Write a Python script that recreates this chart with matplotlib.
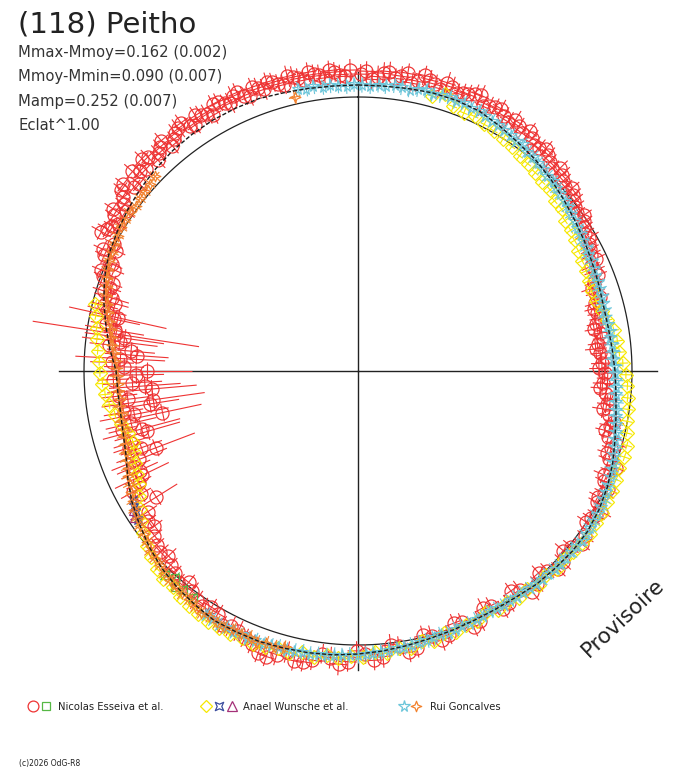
import numpy as np
import matplotlib
matplotlib.use("Agg")
import matplotlib.pyplot as plt
from matplotlib.path import Path

plt.rcParams['font.family'] = ['DejaVu Sans']

# ---------------- text content ----------------
TITLE = "(118) Peitho"
INFO = ["Mmax-Mmoy=0.162 (0.002)", "Mmoy-Mmin=0.090 (0.007)",
        "Mamp=0.252 (0.007)", "Eclat^1.00"]
OBSERVERS = ["Nicolas Esseiva et al.", "Anael Wunsche et al.", "Rui Goncalves"]
FOOTER = "(c)2026 OdG-R8"
STAMP = "Provisoire"

# ---------------- data: phase (deg, clockwise from top) / relative flux ----------------
mean_phase = [0, 5, 10, 15, 20, 25, 30, 35, 40, 45, 50, 55, 60, 65, 70, 75, 80, 85,
              90, 95, 100, 105, 110, 115, 120, 125, 130, 135, 140, 145, 150, 155, 160, 165,
              170, 175, 180, 185, 190, 195, 200, 205, 210, 215, 220, 225, 230, 235, 240, 245,
              250, 255, 260, 265, 270, 275, 280, 285, 290, 295, 300, 305, 310, 315, 320, 325,
              330, 335, 340, 345, 350, 355]
mean_flux = [1.044, 1.044, 1.047, 1.051, 1.051, 1.047, 1.033, 1.018, 1.007, 0.993,
             0.978, 0.964, 0.953, 0.942, 0.934, 0.927, 0.927, 0.931, 0.938, 0.945,
             0.956, 0.971, 0.989, 1.004, 1.015, 1.022, 1.022, 1.018, 1.015, 1.007,
             1.004, 1.004, 1.007, 1.011, 1.018, 1.026, 1.033, 1.040, 1.044, 1.047,
             1.051, 1.051, 1.051, 1.040, 1.029, 1.015, 0.996, 0.974, 0.953, 0.927,
             0.901, 0.887, 0.880, 0.880, 0.883, 0.909, 0.934, 0.960, 0.985, 1.004,
             1.015, 1.026, 1.036, 1.044, 1.051, 1.055, 1.058, 1.058, 1.058, 1.051,
             1.047, 1.044]

# Nicolas Esseiva et al. (circles) - first session
red_phase = [0.5, 2.7, 4.9, 7.2, 9.5, 11.6, 13.8, 16.1, 18.3, 20.6,
             22.9, 25.2, 27.4, 29.8, 32.1, 34.5, 36.8, 39.0, 41.4, 43.7,
             46.1, 48.3, 50.7, 53.0, 55.4, 57.6, 60.0, 62.3, 64.7, 67.0,
             69.4, 71.7, 74.1, 76.4, 78.8, 81.1, 83.5, 85.8, 88.2, 90.5,
             92.9, 95.2, 97.6, 100.0, 102.3, 104.7, 107.0, 109.4, 111.7, 114.1,
             116.4, 118.8, 121.1, 123.5, 126.0, 129.5, 133.0, 136.5, 140.0, 143.5,
             147.0, 150.5, 154.0, 157.5, 161.0, 164.5, 168.0, 171.5, 175.0, 178.5,
             182.0, 185.5, 189.0, 192.5, 196.0, 199.5, 203.0, 206.5, 210.0, 213.5,
             217.0, 220.5, 224.0, 227.5, 231.0, 234.5, 238.0, 240.5, 243.0, 245.5,
             248.0, 250.5, 252.5, 255.0, 257.0, 259.0, 261.0, 263.0, 265.0, 267.0,
             269.0, 271.0, 273.0, 275.0, 277.0, 278.7, 279.5, 282.5, 283.5, 285.5,
             287.5, 289.5, 291.5, 293.5, 295.5, 297.5, 299.5, 301.5, 303.5, 305.5,
             307.5, 309.5, 311.5, 313.5, 315.5, 317.5, 319.5, 321.5, 323.5, 325.5,
             327.5, 329.5, 331.5, 333.5, 335.5, 337.5, 339.5, 341.5, 343.5, 345.5,
             347.5, 349.5, 351.5, 353.5, 355.5, 357.5]
red_flux = [1.084, 1.066, 1.091, 1.077, 1.102, 1.080, 1.095, 1.073, 1.091, 1.084,
            1.099, 1.069, 1.084, 1.073, 1.080, 1.055, 1.062, 1.047, 1.051, 1.026,
            1.033, 1.011, 1.015, 0.993, 1.000, 0.978, 0.974, 0.956, 0.960, 0.938,
            0.920, 0.912, 0.901, 0.898, 0.887, 0.894, 0.880, 0.887, 0.891, 0.901,
            0.894, 0.909, 0.916, 0.931, 0.942, 0.945, 0.967, 0.971, 0.989, 0.985,
            1.004, 0.996, 1.015, 1.000, 1.026, 1.007, 1.022, 1.004, 1.015, 0.993,
            1.011, 0.985, 1.015, 0.993, 1.018, 1.004, 1.033, 1.015, 1.047, 1.033,
            1.062, 1.051, 1.069, 1.084, 1.077, 1.091, 1.058, 1.040, 1.022, 1.029,
            1.007, 1.011, 0.985, 0.978, 0.956, 0.942, 0.869, 0.912, 0.898, 0.876,
            0.861, 0.839, 0.869, 0.818, 0.850, 0.832, 0.770, 0.847, 0.755, 0.825,
            0.810, 0.854, 0.869, 0.832, 0.876, 0.894, 0.901, 0.898, 0.942, 0.920,
            0.971, 0.949, 1.007, 0.978, 1.033, 1.004, 1.051, 1.026, 1.073, 1.047,
            1.088, 1.058, 1.099, 1.069, 1.095, 1.077, 1.106, 1.080, 1.102, 1.084,
            1.106, 1.088, 1.109, 1.091, 1.102, 1.088, 1.106, 1.084, 1.099, 1.080,
            1.099, 1.080, 1.095, 1.077, 1.095, 1.077]
red_err = [0.036, 0.036, 0.040, 0.036, 0.036, 0.040, 0.036, 0.036, 0.040, 0.036,
           0.036, 0.040, 0.036, 0.036, 0.040, 0.036, 0.036, 0.040, 0.036, 0.036,
           0.040, 0.036, 0.036, 0.040, 0.036, 0.036, 0.040, 0.036, 0.036, 0.040,
           0.036, 0.036, 0.040, 0.036, 0.036, 0.040, 0.036, 0.036, 0.040, 0.036,
           0.036, 0.040, 0.036, 0.036, 0.040, 0.036, 0.036, 0.040, 0.036, 0.036,
           0.040, 0.036, 0.036, 0.040, 0.036, 0.036, 0.040, 0.036, 0.036, 0.040,
           0.036, 0.036, 0.040, 0.036, 0.036, 0.040, 0.036, 0.036, 0.040, 0.036,
           0.036, 0.040, 0.036, 0.036, 0.040, 0.036, 0.036, 0.040, 0.036, 0.036,
           0.040, 0.036, 0.036, 0.040, 0.036, 0.036, 0.091, 0.044, 0.051, 0.073,
           0.109, 0.080, 0.066, 0.146, 0.095, 0.128, 0.109, 0.080, 0.164, 0.109,
           0.102, 0.073, 0.164, 0.088, 0.139, 0.307, 0.109, 0.182, 0.073, 0.051,
           0.044, 0.036, 0.036, 0.040, 0.036, 0.036, 0.040, 0.036, 0.036, 0.040,
           0.036, 0.036, 0.040, 0.036, 0.036, 0.040, 0.036, 0.036, 0.040, 0.036,
           0.036, 0.040, 0.036, 0.036, 0.040, 0.036, 0.036, 0.040, 0.036, 0.036,
           0.040, 0.036, 0.036, 0.040, 0.036, 0.036]

# Nicolas Esseiva et al. (circles) - further sessions
red2_phase = [288.5, 290.5, 292.5, 294.5, 296.5, 298.5, 300.5, 302.5, 304.5, 306.5,
              308.5, 310.5, 312.5, 314.5, 316.5, 318.5, 320.5, 322.5, 324.5, 326.5,
              328.5, 330.5, 332.5, 334.5, 336.5, 338.5, 340.5, 342.5, 344.5, 346.5,
              348.5, 350.5, 352.5, 354.5, 356.5, 358.5,
              1.6, 3.8, 6.0, 8.3, 10.5, 12.7, 15.0, 17.2, 19.5, 21.7,
              24.0, 26.3, 28.6, 31.0, 33.3, 35.6, 37.9, 40.2, 42.5, 44.9,
              47.2, 49.5, 51.8, 54.2, 56.5, 58.8,
              61.2, 63.5, 65.8, 68.2, 70.5, 72.9, 75.2, 77.6, 80.0, 82.3,
              84.7, 87.0, 89.4, 91.7, 94.0, 96.4, 98.8, 101.2, 103.5, 105.9,
              108.2, 110.6, 112.9, 115.3, 117.6, 120.0, 122.3,
              127.7, 131.2, 134.7, 138.2, 141.7, 145.2, 148.7, 152.2, 155.7, 159.2,
              162.7, 166.2, 169.7, 173.2, 176.8, 180.3, 183.8, 187.2, 190.7, 194.2,
              197.8,
              201.3, 204.7, 208.2, 211.8, 215.2, 218.7, 222.2, 225.7, 229.2, 232.7,
              236.2,
              241.7, 244.2, 246.8, 249.2, 251.5, 254.0, 256.0, 258.0, 260.0, 262.0,
              264.0, 266.0, 268.0, 270.0, 272.0, 274.0, 276.0, 278.0, 280.5, 282.0,
              284.5, 286.5]
red2_flux = [0.956, 0.993, 0.964, 1.018, 0.985, 1.066, 1.040, 1.058, 1.029, 1.069,
             1.095, 1.051, 1.080, 1.106, 1.062, 1.091, 1.066, 1.095, 1.113, 1.077,
             1.095, 1.073, 1.106, 1.084, 1.109, 1.077, 1.095, 1.106, 1.088, 1.106,
             1.091, 1.106, 1.088, 1.102, 1.084, 1.099,
             1.095, 1.077, 1.099, 1.088, 1.069, 1.106, 1.084, 1.102, 1.077, 1.088,
             1.102, 1.080, 1.091, 1.062, 1.069, 1.077, 1.044, 1.062, 1.036, 1.044,
             1.022, 1.026, 1.004, 0.985, 0.989, 0.967,
             0.964, 0.949, 0.931, 0.942, 0.905, 0.923, 0.891, 0.905, 0.876, 0.901,
             0.872, 0.905, 0.880, 0.912, 0.887, 0.927, 0.905, 0.953, 0.927, 0.978,
             0.956, 1.004, 0.974, 1.011, 0.989, 1.026, 1.007,
             1.033, 0.996, 1.029, 0.989, 1.026, 0.978, 1.018, 0.978, 1.026, 0.985,
             1.029, 0.993, 1.044, 1.007, 1.058, 1.022, 1.073, 1.040, 1.080, 1.058,
             1.095,
             1.069, 1.044, 1.051, 1.015, 1.022, 0.989, 0.996, 0.967, 0.971, 0.934,
             0.923,
             0.931, 0.876, 0.891, 0.790, 0.883, 0.800, 0.887, 0.730, 0.869, 0.755,
             0.876, 0.780, 0.894, 0.770, 0.898, 0.810, 0.912, 0.861, 0.934, 0.909,
             0.956, 0.938]
red2_err = [0.044, 0.036, 0.040, 0.036, 0.036, 0.040, 0.036, 0.036, 0.040, 0.036,
            0.036, 0.040, 0.036, 0.036, 0.040, 0.036, 0.036, 0.040, 0.036, 0.036,
            0.040, 0.036, 0.036, 0.040, 0.036, 0.036, 0.040, 0.036, 0.036, 0.040,
            0.036, 0.036, 0.040, 0.036, 0.036, 0.040,
            0.036, 0.040, 0.036, 0.036, 0.040, 0.036, 0.036, 0.040, 0.036, 0.036,
            0.040, 0.036, 0.036, 0.040, 0.036, 0.036, 0.040, 0.036, 0.036, 0.040,
            0.036, 0.036, 0.040, 0.036, 0.036, 0.040,
            0.036, 0.040, 0.036, 0.036, 0.040, 0.036, 0.036, 0.040, 0.036, 0.036,
            0.040, 0.036, 0.036, 0.040, 0.036, 0.036, 0.040, 0.036, 0.036, 0.040,
            0.036, 0.036, 0.040, 0.036, 0.036, 0.040, 0.036,
            0.036, 0.040, 0.036, 0.036, 0.040, 0.036, 0.036, 0.040, 0.036, 0.036,
            0.040, 0.036, 0.036, 0.040, 0.036, 0.036, 0.040, 0.036, 0.036, 0.040,
            0.036,
            0.036, 0.040, 0.036, 0.036, 0.040, 0.036, 0.036, 0.040, 0.036, 0.036,
            0.040,
            0.051, 0.109, 0.066, 0.153, 0.058, 0.124, 0.051, 0.146, 0.073, 0.190,
            0.066, 0.131, 0.058, 0.164, 0.080, 0.117, 0.073, 0.146, 0.058, 0.095,
            0.051, 0.066]

# Nicolas Esseiva et al. (squares)
green_phase = [216.0, 218.6, 220.2, 221.5, 223.4]
green_flux = [1.026, 1.022, 1.033, 1.007, 1.026]

# Anael Wunsche et al. (diamonds)
yellow_phase = [15.0, 17.4, 19.8, 22.3, 24.6, 27.1, 29.5, 32.0, 34.4, 36.9,
                39.3, 41.8, 44.2, 46.7, 49.1, 51.6, 54.0, 56.5, 58.9, 61.4,
                63.8, 66.3, 68.7, 71.2, 73.6, 76.1, 78.5, 81.0, 83.4, 85.9,
                88.3, 90.8, 93.2, 95.7, 98.1, 100.6, 103.0, 105.5, 107.9, 110.4,
                112.8, 115.3, 117.7, 120.2, 122.6, 125.1, 127.5, 130.0, 132.4, 134.9,
                137.3, 139.8, 142.2, 144.7, 147.1, 149.6, 152.0, 154.5, 156.9, 159.4,
                161.8, 164.3, 166.7, 169.2, 171.6, 174.1, 176.5, 179.0, 181.4, 183.9,
                186.3, 188.8, 191.2, 193.7, 196.1, 198.6, 201.0, 203.5, 205.9, 208.4,
                210.8, 213.3, 215.7, 218.2, 220.6, 223.1, 225.5, 228.0, 230.4, 232.9,
                235.3, 237.8, 240.2, 242.7, 245.1, 247.6, 250.0, 252.5, 254.9, 257.4,
                259.8, 262.3, 264.7, 267.2, 269.6, 272.1, 274.5, 277.0, 279.4, 281.9,
                284.3]
yellow_flux = [1.040, 1.058, 1.026, 1.018, 1.022, 1.011, 1.007, 1.000, 0.993, 0.982,
               0.978, 0.971, 0.964, 0.964, 0.949, 0.949, 0.934, 0.931, 0.923, 0.916,
               0.912, 0.909, 0.905, 0.901, 0.905, 0.916, 0.927, 0.945, 0.953, 0.956,
               0.967, 0.978, 0.985, 0.989, 0.996, 1.000, 1.007, 1.018, 1.022, 1.018,
               1.022, 1.026, 1.026, 1.029, 1.029, 1.033, 1.029, 1.026, 1.018, 1.026,
               1.011, 1.022, 1.007, 1.015, 1.004, 1.011, 0.996, 1.011, 1.007, 1.018,
               1.007, 1.022, 1.011, 1.029, 1.022, 1.036, 1.029, 1.044, 1.040, 1.051,
               1.044, 1.055, 1.047, 1.058, 1.051, 1.062, 1.066, 1.062, 1.069, 1.066,
               1.066, 1.062, 1.055, 1.051, 1.040, 1.040, 1.029, 1.015, 1.000, 0.982,
               0.964, 0.942, 0.920, 0.901, 0.891, 0.880, 0.869, 0.861, 0.869, 0.887,
               0.901, 0.916, 0.927, 0.934, 0.942, 0.945, 0.953, 0.960, 0.967, 0.978,
               0.989]

# Anael Wunsche et al. (second & third sessions)
blue_phase = [240.2, 238.6, 237.6, 235.9]
blue_flux = [0.945, 0.956, 0.960, 0.971]
purple_phase = [238.2, 236.8]
purple_flux = [0.967, 0.978]

# Rui Goncalves (stars)
cyan_phase = [348.0, 349.6, 351.1, 352.9, 354.4, 356.0, 357.7, 359.2, 0.8, 2.5,
              4.1, 5.6, 7.3, 8.8, 10.4, 12.1, 13.7, 15.2, 16.9, 18.5,
              20.0, 21.6, 23.3, 24.9, 26.4, 28.1, 29.7, 31.2, 32.9, 34.5,
              36.0, 37.6, 39.3, 40.8, 42.4, 44.1, 45.7, 47.2, 48.8, 50.5,
              52.0, 53.6, 55.3, 56.9, 58.4, 60.0, 61.7, 63.2, 64.8, 66.5,
              68.1, 69.6, 71.2, 72.9, 74.5, 76.0, 77.6, 79.3, 80.9, 82.4,
              84.0, 85.7, 87.3, 88.8, 90.4, 92.1, 93.6, 95.2, 96.9, 98.5,
              100.0, 101.6, 103.3, 104.8, 106.4, 108.1, 109.7, 111.2, 112.8, 114.5,
              116.1, 117.6, 119.2, 120.9, 122.5, 124.0, 125.6, 127.3, 128.8, 130.4,
              132.1, 133.7, 135.2, 136.8, 138.5, 140.1, 141.6, 143.2, 144.9, 146.5,
              148.0, 149.6, 151.3, 152.9, 154.4, 156.0, 157.7, 159.2, 160.8, 162.5,
              164.1, 165.6, 167.2, 168.9, 170.5, 172.0, 173.6, 175.3, 176.9, 178.4,
              180.0, 181.7, 183.3, 184.8, 186.4, 188.1, 189.7, 191.2, 192.8, 194.5,
              196.1, 197.6, 199.2, 200.9, 202.5, 204.0, 205.6, 207.3, 208.8, 210.4,
              212.0]
cyan_flux = [1.051, 1.047, 1.051, 1.044, 1.047, 1.044, 1.040, 1.047, 1.044, 1.040,
             1.047, 1.044, 1.051, 1.047, 1.044, 1.051, 1.055, 1.047, 1.051, 1.055,
             1.047, 1.051, 1.044, 1.047, 1.040, 1.036, 1.033, 1.029, 1.026, 1.018,
             1.022, 1.011, 1.011, 1.004, 1.000, 0.993, 0.993, 0.985, 0.982, 0.978,
             0.971, 0.967, 0.964, 0.956, 0.956, 0.949, 0.949, 0.942, 0.942, 0.938,
             0.934, 0.934, 0.931, 0.931, 0.927, 0.927, 0.923, 0.927, 0.931, 0.927,
             0.931, 0.934, 0.931, 0.938, 0.938, 0.942, 0.942, 0.945, 0.949, 0.953,
             0.956, 0.960, 0.967, 0.971, 0.978, 0.982, 0.989, 0.993, 1.000, 1.004,
             1.007, 1.011, 1.015, 1.015, 1.018, 1.022, 1.022, 1.026, 1.022, 1.022,
             1.018, 1.022, 1.018, 1.015, 1.015, 1.011, 1.011, 1.007, 1.007, 1.004,
             1.007, 1.004, 1.000, 1.004, 1.004, 1.007, 1.004, 1.007, 1.011, 1.007,
             1.011, 1.015, 1.015, 1.018, 1.022, 1.022, 1.026, 1.029, 1.029, 1.033,
             1.036, 1.036, 1.040, 1.040, 1.044, 1.044, 1.047, 1.044, 1.047, 1.051,
             1.047, 1.051, 1.055, 1.051, 1.055, 1.051, 1.055, 1.051, 1.055, 1.051,
             1.047]

# Rui Goncalves (4-point stars)
orange_phase = [195.0, 196.8, 198.6, 200.4, 202.2, 204.0, 205.8, 207.6, 209.4, 211.2,
                213.0, 214.8, 216.6, 218.4, 220.2, 222.0, 223.8, 225.6, 227.4, 229.2,
                231.0, 232.8, 234.6, 236.4, 238.2, 240.0, 241.8, 243.6, 245.4, 247.2,
                249.0, 250.8, 252.6, 254.4, 256.2, 258.0, 259.8, 261.6, 263.4, 265.2,
                267.0, 268.8, 270.6, 272.4, 274.2, 276.0, 277.8, 279.6, 281.4, 283.2,
                285.0, 286.8, 288.6, 290.4, 292.2, 294.0, 295.8, 297.6, 299.4, 301.2,
                303.0, 304.8, 306.6, 308.4, 310.2, 312.0, 313.8, 347.0]
orange_flux = [1.044, 1.051, 1.047, 1.055, 1.047, 1.051, 1.047, 1.055, 1.051, 1.047,
               1.051, 1.044, 1.036, 1.036, 1.029, 1.026, 1.022, 1.011, 1.007, 1.004,
               0.989, 0.982, 0.978, 0.967, 0.960, 0.949, 0.938, 0.931, 0.923, 0.912,
               0.905, 0.898, 0.891, 0.887, 0.880, 0.883, 0.876, 0.880, 0.876, 0.880,
               0.876, 0.880, 0.883, 0.887, 0.894, 0.901, 0.909, 0.916, 0.927, 0.938,
               0.949, 0.960, 0.967, 0.978, 0.985, 0.993, 0.996, 1.004, 1.007, 1.011,
               1.015, 1.015, 1.011, 1.015, 1.018, 1.022, 1.026, 1.026]

# ---------------- styles ----------------
C_RED = '#ee3333'
C_GREEN = '#55b844'
C_YELLOW = '#f6e800'
C_BLUE = '#3a4c9e'
C_PURPLE = '#a43078'
C_CYAN = '#6cc6da'
C_ORANGE = '#f2822e'
C_TEXT = '#222222'

STAR4 = Path([(0, 1), (0.28, 0.28), (1, 0), (0.28, -0.28), (0, -1), (-0.28, -0.28),
              (-1, 0), (-0.28, 0.28), (0, 1)], closed=True)
PINCH = Path([(-1, 1), (0, 0.55), (1, 1), (0.55, 0), (1, -1), (0, -0.55), (-1, -1),
              (-0.55, 0), (-1, 1)], closed=True)

W, H = 688, 768
fig = plt.figure(figsize=(W / 100, H / 100), dpi=100)
fig.patch.set_facecolor('white')

# polar axes: centre at (358, 371) px; unit flux = 274 px
CX, CY, R_UNIT, RMAX = 358.0, 371.0, 274.0, 1.2
rad_px = R_UNIT * RMAX
ax = fig.add_axes([(CX - rad_px) / W, (H - CY - rad_px) / H, 2 * rad_px / W, 2 * rad_px / H],
                  projection='polar')
ax.set_theta_zero_location('N')
ax.set_theta_direction(-1)
ax.set_ylim(0, RMAX)
ax.axis('off')
ax.patch.set_visible(False)

# reference circle and cross
circ_t = np.linspace(0, 2 * np.pi, 721)
ax.plot(circ_t, np.ones_like(circ_t), color=C_TEXT, lw=0.9, zorder=1)
CROSS = 1.091
for ang in (0, 90, 180, 270):
    ax.plot([np.deg2rad(ang)] * 2, [0, CROSS], color=C_TEXT, lw=1.0, zorder=1, clip_on=False)


def draw_series(phase, flux, err, color, marker, ms, z, tick=0.0):
    th = np.deg2rad(np.asarray(phase, float))
    r = np.asarray(flux, float)
    e = np.asarray(err, float) * np.ones_like(r)
    ax.vlines(th, r - e, r + e, colors=color, lw=0.8, zorder=z, clip_on=False)
    if tick > 0:
        dth = tick / r
        ax.hlines(r, th - dth, th + dth, colors=color, lw=0.8, zorder=z, clip_on=False)
    ax.plot(th, r, ls='none', marker=marker, ms=ms, mfc='none', mec=color,
            mew=0.85, zorder=z, clip_on=False)


draw_series(red_phase + red2_phase, red_flux + red2_flux, red_err + red2_err,
            C_RED, 'o', 9.4, 3, tick=0.033)
draw_series(green_phase, green_flux, 0.025, C_GREEN, 's', 5.5, 4)
draw_series(yellow_phase, yellow_flux, 0.02, C_YELLOW, 'D', 6.8, 4, tick=0.015)
draw_series(blue_phase, blue_flux, 0.015, C_BLUE, PINCH, 5.5, 5)
draw_series(purple_phase, purple_flux, 0.015, C_PURPLE, '^', 6.0, 5)
draw_series(cyan_phase, cyan_flux, 0.028, C_CYAN, '*', 8.5, 6, tick=0.022)
draw_series(orange_phase, orange_flux, 0.026, C_ORANGE, STAR4, 7.8, 6, tick=0.022)

mt = np.deg2rad(np.asarray(mean_phase + [360], float))
mr = np.asarray(mean_flux + [mean_flux[0]], float)
ax.plot(mt, mr, color='#1a1a1a', lw=1.0, ls=(0, (3, 1.5)), zorder=8)

# ---------------- overlay (texts & legend), pixel coordinates ----------------
ov = fig.add_axes([0, 0, 1, 1])
ov.set_xlim(0, W)
ov.set_ylim(H, 0)
ov.axis('off')
ov.patch.set_visible(False)

ov.text(18, 32.5, TITLE, fontsize=21, color=C_TEXT, va='baseline', ha='left')
for i, line in enumerate(INFO):
    ov.text(18, 56.5 + 24.6 * i, line, fontsize=10.6, color='#333333', va='baseline', ha='left')

LY = 705.5
ov.plot(33, LY, marker='o', ms=7.8, mfc='none', mec=C_RED, mew=0.9)
ov.plot(46, LY, marker='s', ms=5.5, mfc='none', mec=C_GREEN, mew=0.9)
ov.text(58, LY + 4, OBSERVERS[0], fontsize=7.2, color=C_TEXT, va='baseline')
ov.plot(206, LY, marker='D', ms=6.2, mfc='none', mec=C_YELLOW, mew=0.9)
ov.plot(219, LY, marker=PINCH, ms=6.0, mfc='none', mec=C_BLUE, mew=0.9)
ov.plot(232, LY, marker='^', ms=6.5, mfc='none', mec=C_PURPLE, mew=0.9)
ov.text(243, LY + 4, OBSERVERS[1], fontsize=7.2, color=C_TEXT, va='baseline')
ov.plot(404, LY, marker='*', ms=8.5, mfc='none', mec=C_CYAN, mew=0.9)
ov.plot(416, LY, marker=STAR4, ms=7.5, mfc='none', mec=C_ORANGE, mew=0.9)
ov.text(430, LY + 4, OBSERVERS[2], fontsize=7.2, color=C_TEXT, va='baseline')

ov.text(19, 766, FOOTER, fontsize=5.5, color=C_TEXT, va='baseline')
ov.text(623, 618, STAMP, fontsize=15.5, color=C_TEXT, rotation=43,
        ha='center', va='center', rotation_mode='anchor')

fig.savefig('out.png', dpi=100, facecolor='white')
